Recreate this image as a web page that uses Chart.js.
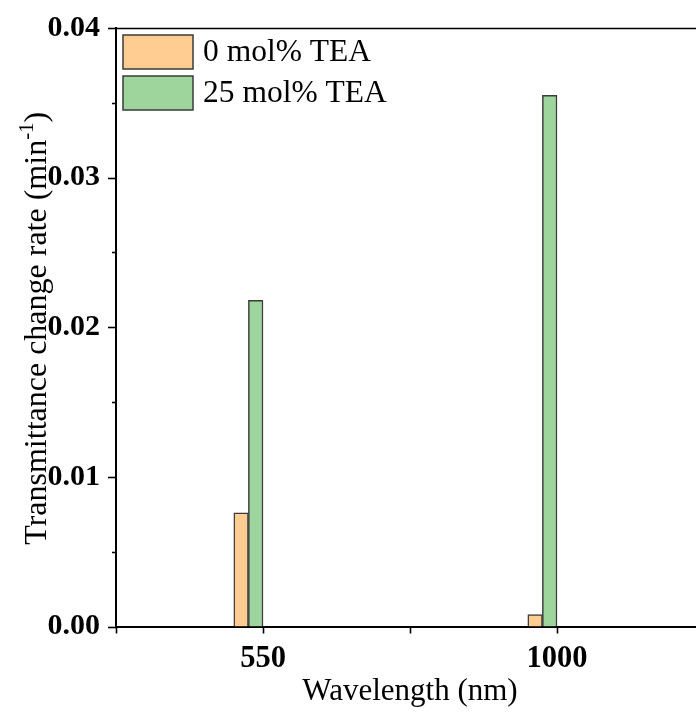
<!DOCTYPE html>
<html>
<head>
<meta charset="utf-8">
<script src="https://cdn.jsdelivr.net/npm/chart.js@4.4.1/dist/chart.umd.min.js"></script>
<style>
  html, body { margin: 0; padding: 0; background: #ffffff; overflow: hidden; }
  #wrap { width: 740px; height: 722px; }
</style>
</head>
<body>
<div id="wrap"><canvas id="chart" width="740" height="722"></canvas></div>
<script>
// Wavelength categories and transmittance change rates (min^-1)
const wavelengths = ['550', '1000'];
const rateTEA0 = [0.0076, 0.0008];
const rateTEA25 = [0.0218, 0.0355];
const seriesLabels = ['0 mol% TEA', '25 mol% TEA'];
const yTickMax = 0.04;

const SERIF = "'Liberation Serif', 'Times New Roman', serif";
const fillOrange = '#FFCC91';
const fillGreen = '#9DD59C';
const edge = '#3b3b3b';

// each category sits on an odd slot of the x axis, with blank slots between
const slotOf = i => 2 * i + 1;
const toPoints = arr => arr.map((v, i) => ({ x: slotOf(i), y: v }));
const emptyPoints = wavelengths.map((_, i) => ({ x: slotOf(i), y: null }));

// tick marks (major/minor), top frame line, legend and y-axis title
const decorations = {
  id: 'decorations',
  afterDraw(chart) {
    const { ctx, chartArea: a, scales } = chart;
    ctx.save();
    ctx.strokeStyle = '#000';
    ctx.lineWidth = 1.6;
    // top frame
    ctx.beginPath();
    ctx.moveTo(a.left, a.top + 0.5);
    ctx.lineTo(a.right, a.top + 0.5);
    ctx.stroke();
    // y ticks
    scales.y.ticks.forEach(t => {
      const y = Math.round(scales.y.getPixelForValue(t.value)) + 0.5;
      const major = Math.abs(t.value * 100 - Math.round(t.value * 100)) < 1e-6;
      const len = major ? 8 : 4;
      ctx.beginPath();
      ctx.moveTo(a.left - len, y);
      ctx.lineTo(a.left, y);
      ctx.stroke();
    });
    // x ticks
    scales.x.ticks.forEach(t => {
      const x = Math.round(scales.x.getPixelForValue(t.value)) + 0.5;
      ctx.beginPath();
      ctx.moveTo(x, a.bottom);
      ctx.lineTo(x, a.bottom + 7);
      ctx.stroke();
    });

    // legend
    const items = [
      { text: seriesLabels[0], fill: fillOrange },
      { text: seriesLabels[1], fill: fillGreen }
    ];
    const bx = a.left + 7, bw = 70, bh = 34;
    ctx.font = '31.5px ' + SERIF;
    ctx.textBaseline = 'middle';
    ctx.textAlign = 'left';
    items.forEach((it, k) => {
      const by = a.top + 7 + k * 41;
      ctx.fillStyle = it.fill;
      ctx.fillRect(bx, by, bw, bh);
      ctx.strokeStyle = edge;
      ctx.lineWidth = 1.5;
      ctx.strokeRect(bx, by, bw, bh);
      ctx.fillStyle = '#000';
      ctx.fillText(it.text, bx + bw + 10, by + bh / 2 + 1);
    });

    // y-axis title with superscript
    const main = 'Transmittance change rate (min';
    const sup = '-1';
    const close = ')';
    ctx.font = '32px ' + SERIF;
    const w1 = ctx.measureText(main).width;
    const w3 = ctx.measureText(close).width;
    ctx.font = '21px ' + SERIF;
    const w2 = ctx.measureText(sup).width;
    const total = w1 + w2 + w3;
    ctx.translate(35, (a.top + a.bottom) / 2 + 1);
    ctx.rotate(-Math.PI / 2);
    ctx.fillStyle = '#000';
    ctx.textBaseline = 'alphabetic';
    let x0 = -total / 2;
    ctx.font = '32px ' + SERIF;
    ctx.fillText(main, x0, 11);
    ctx.font = '21px ' + SERIF;
    ctx.fillText(sup, x0 + w1, -2);
    ctx.font = '32px ' + SERIF;
    ctx.fillText(close, x0 + w1 + w2, 11);
    ctx.restore();
  }
};

const barStyle = (fill) => ({
  backgroundColor: fill,
  borderColor: edge,
  borderWidth: 1.5,
  borderSkipped: 'bottom',
  barThickness: 14.6
});

new Chart(document.getElementById('chart'), {
  type: 'bar',
  data: {
    datasets: [
      Object.assign({ label: seriesLabels[0], data: toPoints(rateTEA0) }, barStyle(fillOrange)),
      Object.assign({ label: seriesLabels[1], data: toPoints(rateTEA25) }, barStyle(fillGreen)),
      // two unused slots to the right of each pair keep the pair left of the tick
      Object.assign({ label: '', data: emptyPoints }, barStyle('transparent')),
      Object.assign({ label: '', data: emptyPoints }, barStyle('transparent'))
    ]
  },
  options: {
    responsive: false,
    animation: false,
    devicePixelRatio: 1,
    layout: { padding: { left: 0, right: 36, top: 28, bottom: 0 } },
    plugins: {
      legend: { display: false },
      tooltip: { enabled: false }
    },
    scales: {
      x: {
        type: 'linear',
        offset: false,
        min: 0,
        max: 2 * wavelengths.length,
        grid: { display: false, drawTicks: false, offset: false },
        border: { display: true, color: '#000', width: 2 },
        ticks: {
          stepSize: 1,
          autoSkip: false,
          maxRotation: 0,
          padding: 14,
          color: '#000',
          font: { family: SERIF, size: 30.5, weight: 'bold' },
          callback: v => (v % 2 === 1 ? wavelengths[(v - 1) / 2] : '')
        },
        title: {
          display: true,
          text: 'Wavelength (nm)',
          color: '#000',
          font: { family: SERIF, size: 31 },
          padding: { top: 0, bottom: 12 }
        },
        afterFit: s => { s.height = 95.5; s.paddingLeft = 0; s.paddingRight = 0; }
      },
      y: {
        min: 0,
        max: yTickMax,
        grid: { display: false, drawTicks: false },
        border: { display: true, color: '#000', width: 2 },
        ticks: {
          stepSize: 0.005,
          autoSkip: false,
          padding: 16,
          color: '#000',
          font: { family: SERIF, size: 30, weight: 'bold' },
          callback: v => (Math.abs(v * 100 - Math.round(v * 100)) < 1e-6 ? v.toFixed(2) : '')
        },
        afterFit: s => { s.width = 116; s.paddingTop = 0; s.paddingBottom = 0; }
      }
    }
  },
  plugins: [decorations]
});
</script>
</body>
</html>
